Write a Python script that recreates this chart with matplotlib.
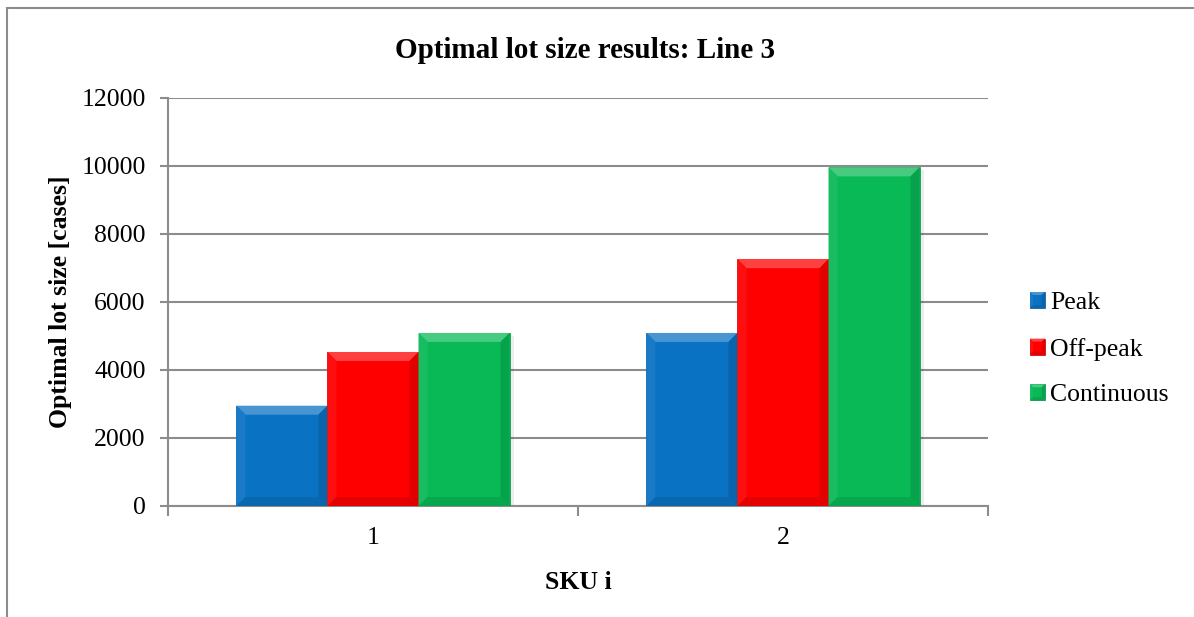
import matplotlib
matplotlib.use("Agg")
import matplotlib.pyplot as plt
from matplotlib.patches import Polygon, Rectangle
from matplotlib.legend_handler import HandlerBase
import numpy as np

plt.rcParams["font.family"] = ["Liberation Serif", "DejaVu Serif"]

categories = ["1", "2"]
series_names = ["Peak", "Off-peak", "Continuous"]
peak = [2950, 5090]
off_peak = [4530, 7260]
continuous = [5090, 9960]
series_values = [peak, off_peak, continuous]
colors = ["#0A72C3", "#FE0000", "#08B956"]
yticks = [0, 2000, 4000, 6000, 8000, 10000, 12000]

FS = 18.5
W, H = 1194, 617
fig = plt.figure(figsize=(W / 100, H / 100), dpi=100)
ax = fig.add_axes([168 / W, 1 - 506 / H, (988 - 168) / W, (506 - 98) / H])

# outer chart frame
fig.patches.append(Rectangle((7 / W, -0.05), 1.2, 1 - 8 / H + 0.05,
                             transform=fig.transFigure, fill=False,
                             edgecolor="#8C8C8C", linewidth=1.5))

x = np.arange(len(categories))
bw = 0.222
ax.set_xlim(-0.5, len(categories) - 0.5)
ax.set_ylim(0, 12000)

px_x = (988 - 168) / len(categories)  # pixels per category unit
px_y = (506 - 98) / 12000.0           # pixels per value unit
bev = 9.0
bx = bev / px_x
by = bev / px_y


def lighten(c, f):
    rgb = np.array(matplotlib.colors.to_rgb(c))
    return tuple(rgb + (1 - rgb) * f)


def darken(c, f):
    rgb = np.array(matplotlib.colors.to_rgb(c))
    return tuple(rgb * (1 - f))


def bevel_polys(x0, x1, y0, y1, dx, dy, col):
    """Faces of a bevelled rectangle: top, left, right, bottom."""
    return [
        ([(x0, y1), (x1, y1), (x1 - dx, y1 - dy), (x0 + dx, y1 - dy)], lighten(col, 0.25)),
        ([(x0, y1), (x0 + dx, y1 - dy), (x0 + dx, y0 + dy), (x0, y0)], lighten(col, 0.06)),
        ([(x1, y1), (x1 - dx, y1 - dy), (x1 - dx, y0 + dy), (x1, y0)], darken(col, 0.12)),
        ([(x0, y0), (x0 + dx, y0 + dy), (x1 - dx, y0 + dy), (x1, y0)], darken(col, 0.10)),
    ]


for i, (name, vals, col) in enumerate(zip(series_names, series_values, colors)):
    offs = (i - 1) * bw
    bars = ax.bar(x + offs, vals, width=bw, color=col, edgecolor=darken(col, 0.2),
                  linewidth=0.5, label=name, zorder=3)
    for b in bars:
        x0 = b.get_x()
        x1 = x0 + b.get_width()
        h = b.get_height()
        # soft shadow
        ax.add_patch(Rectangle((x0 + 0.5 * bx, -by * 0.3), b.get_width(), h,
                               facecolor="#000000", alpha=0.07, linewidth=0, zorder=2))
        for pts, fc in bevel_polys(x0, x1, 0, h, bx, by, col):
            ax.add_patch(Polygon(pts, closed=True, facecolor=fc, linewidth=0, zorder=4))


class BevelHandler(HandlerBase):
    def create_artists(self, legend, orig_handle, xdescent, ydescent, width, height,
                       fontsize, trans):
        col = orig_handle.get_facecolor()
        x0, y0 = -xdescent, -ydescent
        x1, y1 = x0 + width, y0 + height
        d = width * 0.2
        arts = [Rectangle((x0, y0), width, height, facecolor=col,
                          edgecolor=darken(col[:3], 0.3), linewidth=0.5, transform=trans)]
        for pts, fc in bevel_polys(x0, x1, y0, y1, d, d, col[:3]):
            arts.append(Polygon(pts, closed=True, facecolor=fc, linewidth=0, transform=trans))
        return arts


ax.set_yticks(yticks)
ax.set_yticklabels([str(v) for v in yticks])
ax.set_xticks(x)
ax.set_xticklabels(categories)
ax.set_xticks(np.arange(-0.5, len(categories)), minor=True)

grid_col = "#8C8C8C"
ax.yaxis.grid(True, color=grid_col, linewidth=1.5, zorder=0)
ax.set_axisbelow(True)
for s in ["top", "right"]:
    ax.spines[s].set_visible(False)
for s in ["left", "bottom"]:
    ax.spines[s].set_color(grid_col)
    ax.spines[s].set_linewidth(1.5)

ax.tick_params(axis="y", length=6, width=1.5, color=grid_col, labelsize=FS, pad=10)
ax.tick_params(axis="x", which="major", length=0, labelsize=FS, pad=15)
ax.tick_params(axis="x", which="minor", length=7, width=1.5, color=grid_col)

ax.set_ylabel("Optimal lot size [cases]", fontsize=FS, fontweight="bold", labelpad=7)
ax.set_xlabel("SKU i", fontsize=FS, fontweight="bold", labelpad=16)
fig.text(585 / W, 1 - 51 / H, "Optimal lot size results: Line 3", ha="center",
         va="center", fontsize=21, fontweight="bold")

handles, labels = ax.get_legend_handles_labels()
leg = fig.legend([h.patches[0] for h in handles], labels, loc="upper left",
                 bbox_to_anchor=(1030 / W, 1 - 292 / H),
                 frameon=False, fontsize=FS, handlelength=0.58, handleheight=0.58,
                 handletextpad=0.2, labelspacing=0.92, borderaxespad=0, borderpad=0,
                 handler_map={Rectangle: BevelHandler()})

fig.savefig("out.png", dpi=100)
